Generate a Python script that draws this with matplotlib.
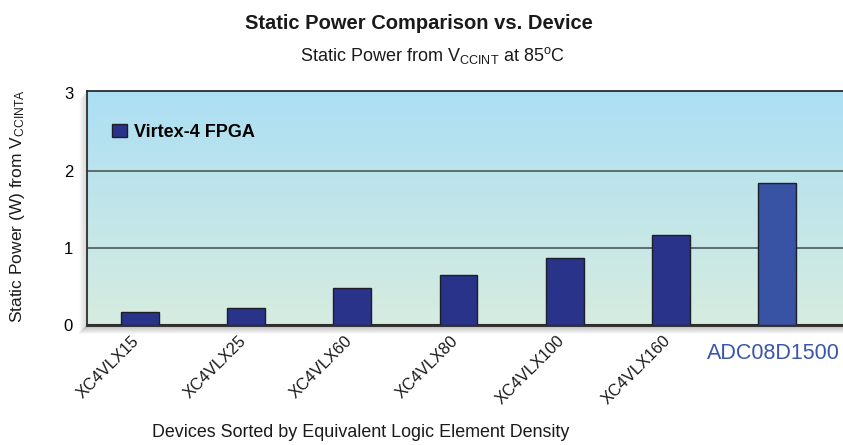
import numpy as np
import matplotlib
matplotlib.use("Agg")
import matplotlib.pyplot as plt
from matplotlib.colors import LinearSegmentedColormap
from matplotlib.transforms import blended_transform_factory, offset_copy

devices = ["XC4VLX15", "XC4VLX25", "XC4VLX60", "XC4VLX80", "XC4VLX100", "XC4VLX160", "ADC08D1500"]
power = [0.17, 0.22, 0.48, 0.65, 0.87, 1.17, 1.84]
yticks = [0, 1, 2, 3]

plt.rcParams["font.family"] = ["Liberation Sans", "DejaVu Sans"]
plt.rcParams["mathtext.fontset"] = "custom"
plt.rcParams["mathtext.rm"] = "Liberation Sans"
plt.rcParams["mathtext.it"] = "Liberation Sans"

fig = plt.figure(figsize=(8.43, 4.45), dpi=100)
ax = fig.add_axes([87 / 843, 120 / 445, 1 - 87 / 843, 234 / 445])

# gradient background
grad = LinearSegmentedColormap.from_list("bg", ["#d6ecdf", "#acdff4"])
ax.imshow(np.linspace(0, 1, 256).reshape(-1, 1), cmap=grad, origin="lower",
          extent=[0, 1, 0, 1], transform=ax.transAxes, aspect="auto", zorder=0)

x = np.arange(len(devices))
colors = ["#29338a"] * (len(devices) - 1) + ["#3852a4"]
ax.bar(x, power, width=0.355, color=colors, edgecolor="#1e1e28", linewidth=1.0, zorder=3)

ax.set_xlim(-0.497, 6.62)
ax.set_ylim(0, 3.03)
ax.set_yticks(yticks)
ax.set_yticklabels([str(t) for t in yticks], fontsize=12)
ax.tick_params(axis="y", length=0, pad=10)
ax.set_xticks([])
for v in [1, 2]:
    ax.axhline(v, color="#5d6c6a", lw=1.4, zorder=2)

for s in ["left", "top", "bottom"]:
    ax.spines[s].set_color("#2a2a2a")
ax.spines["left"].set_linewidth(1.3)
ax.spines["top"].set_linewidth(1.3)
ax.spines["bottom"].set_linewidth(2.2)
ax.spines["right"].set_visible(False)

# drop shadow below and left of the plot area
for i in range(1, 9):
    a = 0.14 * (1 - i / 9)
    fig.patches.append(plt.Rectangle((87 / 843 - i / 843, (120 - i) / 445), 1, 1 / 445,
                                     transform=fig.transFigure, color="#555555", alpha=a, zorder=0))
    fig.patches.append(plt.Rectangle((87 / 843 - i / 843, (120 - i) / 445), 1 / 843, 234 / 445,
                                     transform=fig.transFigure, color="#555555", alpha=a * 0.6, zorder=0))

trans = blended_transform_factory(ax.transData, ax.transAxes)
for i, name in enumerate(devices[:-1]):
    ax.text(i, -0.035, name, transform=offset_copy(trans, fig=fig, x=-8, y=0, units="dots"),
            rotation=45, ha="right", va="top", rotation_mode="anchor",
            fontsize=11.8, color="#1a1a1a")
ax.text(6 - 0.04, -0.12, devices[-1], transform=trans, ha="center", va="center",
        fontsize=15.5, color="#3a56aa")

ax.bar([0], [0], color="#29338a", edgecolor="#1e1e28", label="Virtex-4 FPGA")
ax.legend(loc="upper left", bbox_to_anchor=(0.012, 0.93), frameon=False, handlelength=0.8,
          handleheight=0.8, handletextpad=0.4, prop={"weight": "bold", "size": 13})

fig.text(0.497, 0.948, "Static Power Comparison vs. Device", ha="center", va="center",
         fontsize=14.5, fontweight="bold", color="#1a1a1a")
fig.text(0.513, 0.876, r"Static Power from V$_{\mathrm{CCINT}}$ at 85$^{\mathrm{o}}$C", ha="center",
         va="center", fontsize=13, color="#1a1a1a")
fig.text(0.428, 0.027, "Devices Sorted by Equivalent Logic Element Density", ha="center",
         va="center", fontsize=12.9, color="#1a1a1a")
fig.text(0.021, 0.537, r"Static Power (W) from V$_{\mathrm{CCINTA}}$", rotation=90, ha="center",
         va="center", fontsize=12.5, color="#1a1a1a")

fig.savefig("out.png", dpi=100)
